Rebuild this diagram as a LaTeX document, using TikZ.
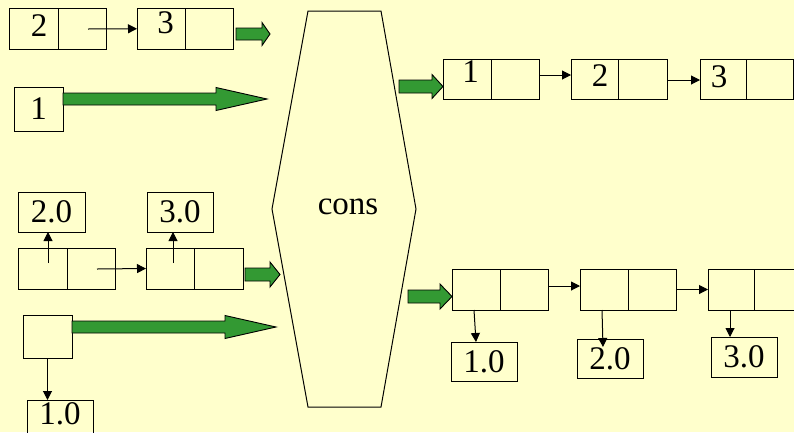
\documentclass[tikz,border=0pt]{standalone}
\usepackage{fontspec}
\setmainfont{Liberation Serif}
\usetikzlibrary{arrows.meta}
\definecolor{paper}{RGB}{255,255,204}
\definecolor{fatgreen}{RGB}{51,153,51}

\tikzset{
  cellbox/.style={draw=black, line width=1pt, inner sep=0pt, outer sep=0pt,
    minimum height=41, font=\fontsize{33}{33}\selectfont},
  num/.style={inner sep=0pt, font=\fontsize{33}{33}\selectfont},
  ptr/.style={line width=1pt, -{Triangle[length=9pt,width=9pt]}},
  fat/.style={fill=fatgreen, draw=black, line width=0.9pt, line join=miter}
}

% wide green arrow: tail x, tip x, mid y, body half-height, head half-height, head start x
\newcommand{\fatarrow}[6]{%
  \filldraw[fat] (#1,#3-#4) -- (#6,#3-#4) -- (#6,#3-#5) -- (#2,#3)
    -- (#6,#3+#5) -- (#6,#3+#4) -- (#1,#3+#4) -- cycle;}

\begin{document}
\begin{tikzpicture}[x=1pt,y=-1pt]
  \useasboundingbox (0,0) rectangle (794,432);
  \clip (0,0) rectangle (794,432);
  \fill[paper] (0,0) rectangle (794,432);

  % ---- list 2 -> 3 (top left)
  \node[cellbox, minimum width=48.5, minimum height=40.5] (c2L) at (33.75,28.75) {};
  \node[cellbox, minimum width=48,   minimum height=40.5] (c2R) at (82,28.75) {};
  \node[cellbox, minimum width=48,   minimum height=40.5] (c3L) at (161,28.75) {};
  \node[cellbox, minimum width=48,   minimum height=40.5] (c3R) at (209,28.75) {};
  \node[num] (t2) at (39,25.5) {2};
  \node[num] (t3) at (165.5,23) {3};
  \coordinate (p2) at (88,29);
  \draw[ptr] (p2) -- (c3L.west);

  % ---- element 1
  \node[cellbox, minimum width=49, minimum height=44] (b1) at (38.5,109) {1};

  % ---- list of boxed reals 2.0 -> 3.0
  \node[cellbox, minimum width=67, minimum height=40] (b20l) at (51.5,212) {2.0};
  \node[cellbox, minimum width=66, minimum height=40] (b30l) at (180,212) {3.0};
  \node[cellbox, minimum width=49] (r1L) at (42.5,268.5) {};
  \node[cellbox, minimum width=48] (r1R) at (91,268.5) {};
  \node[cellbox, minimum width=48] (r2L) at (170,268.5) {};
  \node[cellbox, minimum width=49] (r2R) at (218.5,268.5) {};
  \coordinate (u1) at (48,263);
  \coordinate (u2) at (173,263);
  \coordinate (q1) at (97,269);
  \draw[ptr] (u1) -- (u1 |- b20l.south);
  \draw[ptr] (u2) -- (u2 |- b30l.south);
  \draw[ptr] (q1) -- (r2L.west);

  % ---- boxed 1.0 (box runs past the lower edge)
  \node[cellbox, minimum width=49, minimum height=43] (sbox) at (47.5,336.5) {};
  \node[cellbox, minimum width=66, minimum height=40] (b10l) at (60,420) {};
  \node[num] (t10l) at (60,414) {1.0};
  \draw[ptr] (sbox.south) -- (sbox.south |- b10l.north);

  % ---- cons
  \coordinate (h1) at (308,11);
  \coordinate (h2) at (381,11);
  \coordinate (h3) at (416,209);
  \coordinate (h4) at (381,407);
  \coordinate (h5) at (308,407);
  \coordinate (h6) at (272,209);
  \draw[line width=1pt, line join=miter] (h1) -- (h2) -- (h3) -- (h4) -- (h5) -- (h6) -- cycle;
  \node[num] (cons) at (348,207) {cons};

  % ---- result list 1 -> 2 -> 3
  \node[cellbox, minimum width=48, minimum height=40] (a1L) at (467,79) {};
  \node[cellbox, minimum width=48, minimum height=40] (a1R) at (515,79) {};
  \node[cellbox, minimum width=47, minimum height=40] (a2L) at (594.5,79) {};
  \node[cellbox, minimum width=49, minimum height=40] (a2R) at (642.5,79) {};
  \node[cellbox, minimum width=46, minimum height=40] (a3L) at (723,79) {};
  \node[cellbox, minimum width=47, minimum height=40] (a3R) at (769.5,79) {};
  \node[num] (s1) at (470.5,72) {1};
  \node[num] (s2) at (600,75.5) {2};
  \node[num] (s3) at (719,77) {3};
  \draw[ptr] ([yshift=4pt]a1R.east) -- ([yshift=4pt]a2L.west);
  \draw[ptr] ([yshift=-1pt]a2R.east) -- ([yshift=-1pt]a3L.west);

  % ---- result list of boxed reals
  \node[cellbox, minimum width=48] (cAL) at (476,289.5) {};
  \node[cellbox, minimum width=48] (cAR) at (524,289.5) {};
  \node[cellbox, minimum width=48] (cBL) at (604,289.5) {};
  \node[cellbox, minimum width=48] (cBR) at (652,289.5) {};
  \node[cellbox, minimum width=46] (cCL) at (731,289.5) {};
  \node[cellbox, minimum width=48] (cCR) at (778,289.5) {};
  \node[cellbox, minimum width=66, minimum height=39] (b10r) at (484,361.5) {1.0};
  \node[cellbox, minimum width=66, minimum height=39] (b20r) at (610,358.5) {\raisebox{-4pt}{2.0}};
  \node[cellbox, minimum width=66, minimum height=40] (b30r) at (744,357) {3.0};
  \draw[ptr] ([yshift=3.5pt]cAR.east) -- ([yshift=3.5pt]cBL.west);
  \draw[ptr] (cBR.east) -- (cCL.west);
  \coordinate (d1) at (474,310);
  \coordinate (d2) at (602,310);
  \coordinate (d2e) at (603,347);
  \coordinate (d3) at (730,310);
  \draw[ptr] (d1) -- (476,342);
  \draw[ptr] (d2) -- (d2e);
  \draw[ptr] (d3) -- (d3 |- b30r.north);

  % ---- wide green arrows
  \fatarrow{236}{270}{34}{6}{11.5}{262}
  \fatarrow{63}{267}{99}{6}{11.5}{216}
  \fatarrow{245}{280}{274.5}{6.5}{12.5}{270}
  \fatarrow{72}{276}{327}{6}{11.5}{225}
  \fatarrow{399}{443}{86.5}{6.5}{12}{432}
  \fatarrow{408}{452}{296.5}{6.5}{12.5}{440}
\end{tikzpicture}
\end{document}
